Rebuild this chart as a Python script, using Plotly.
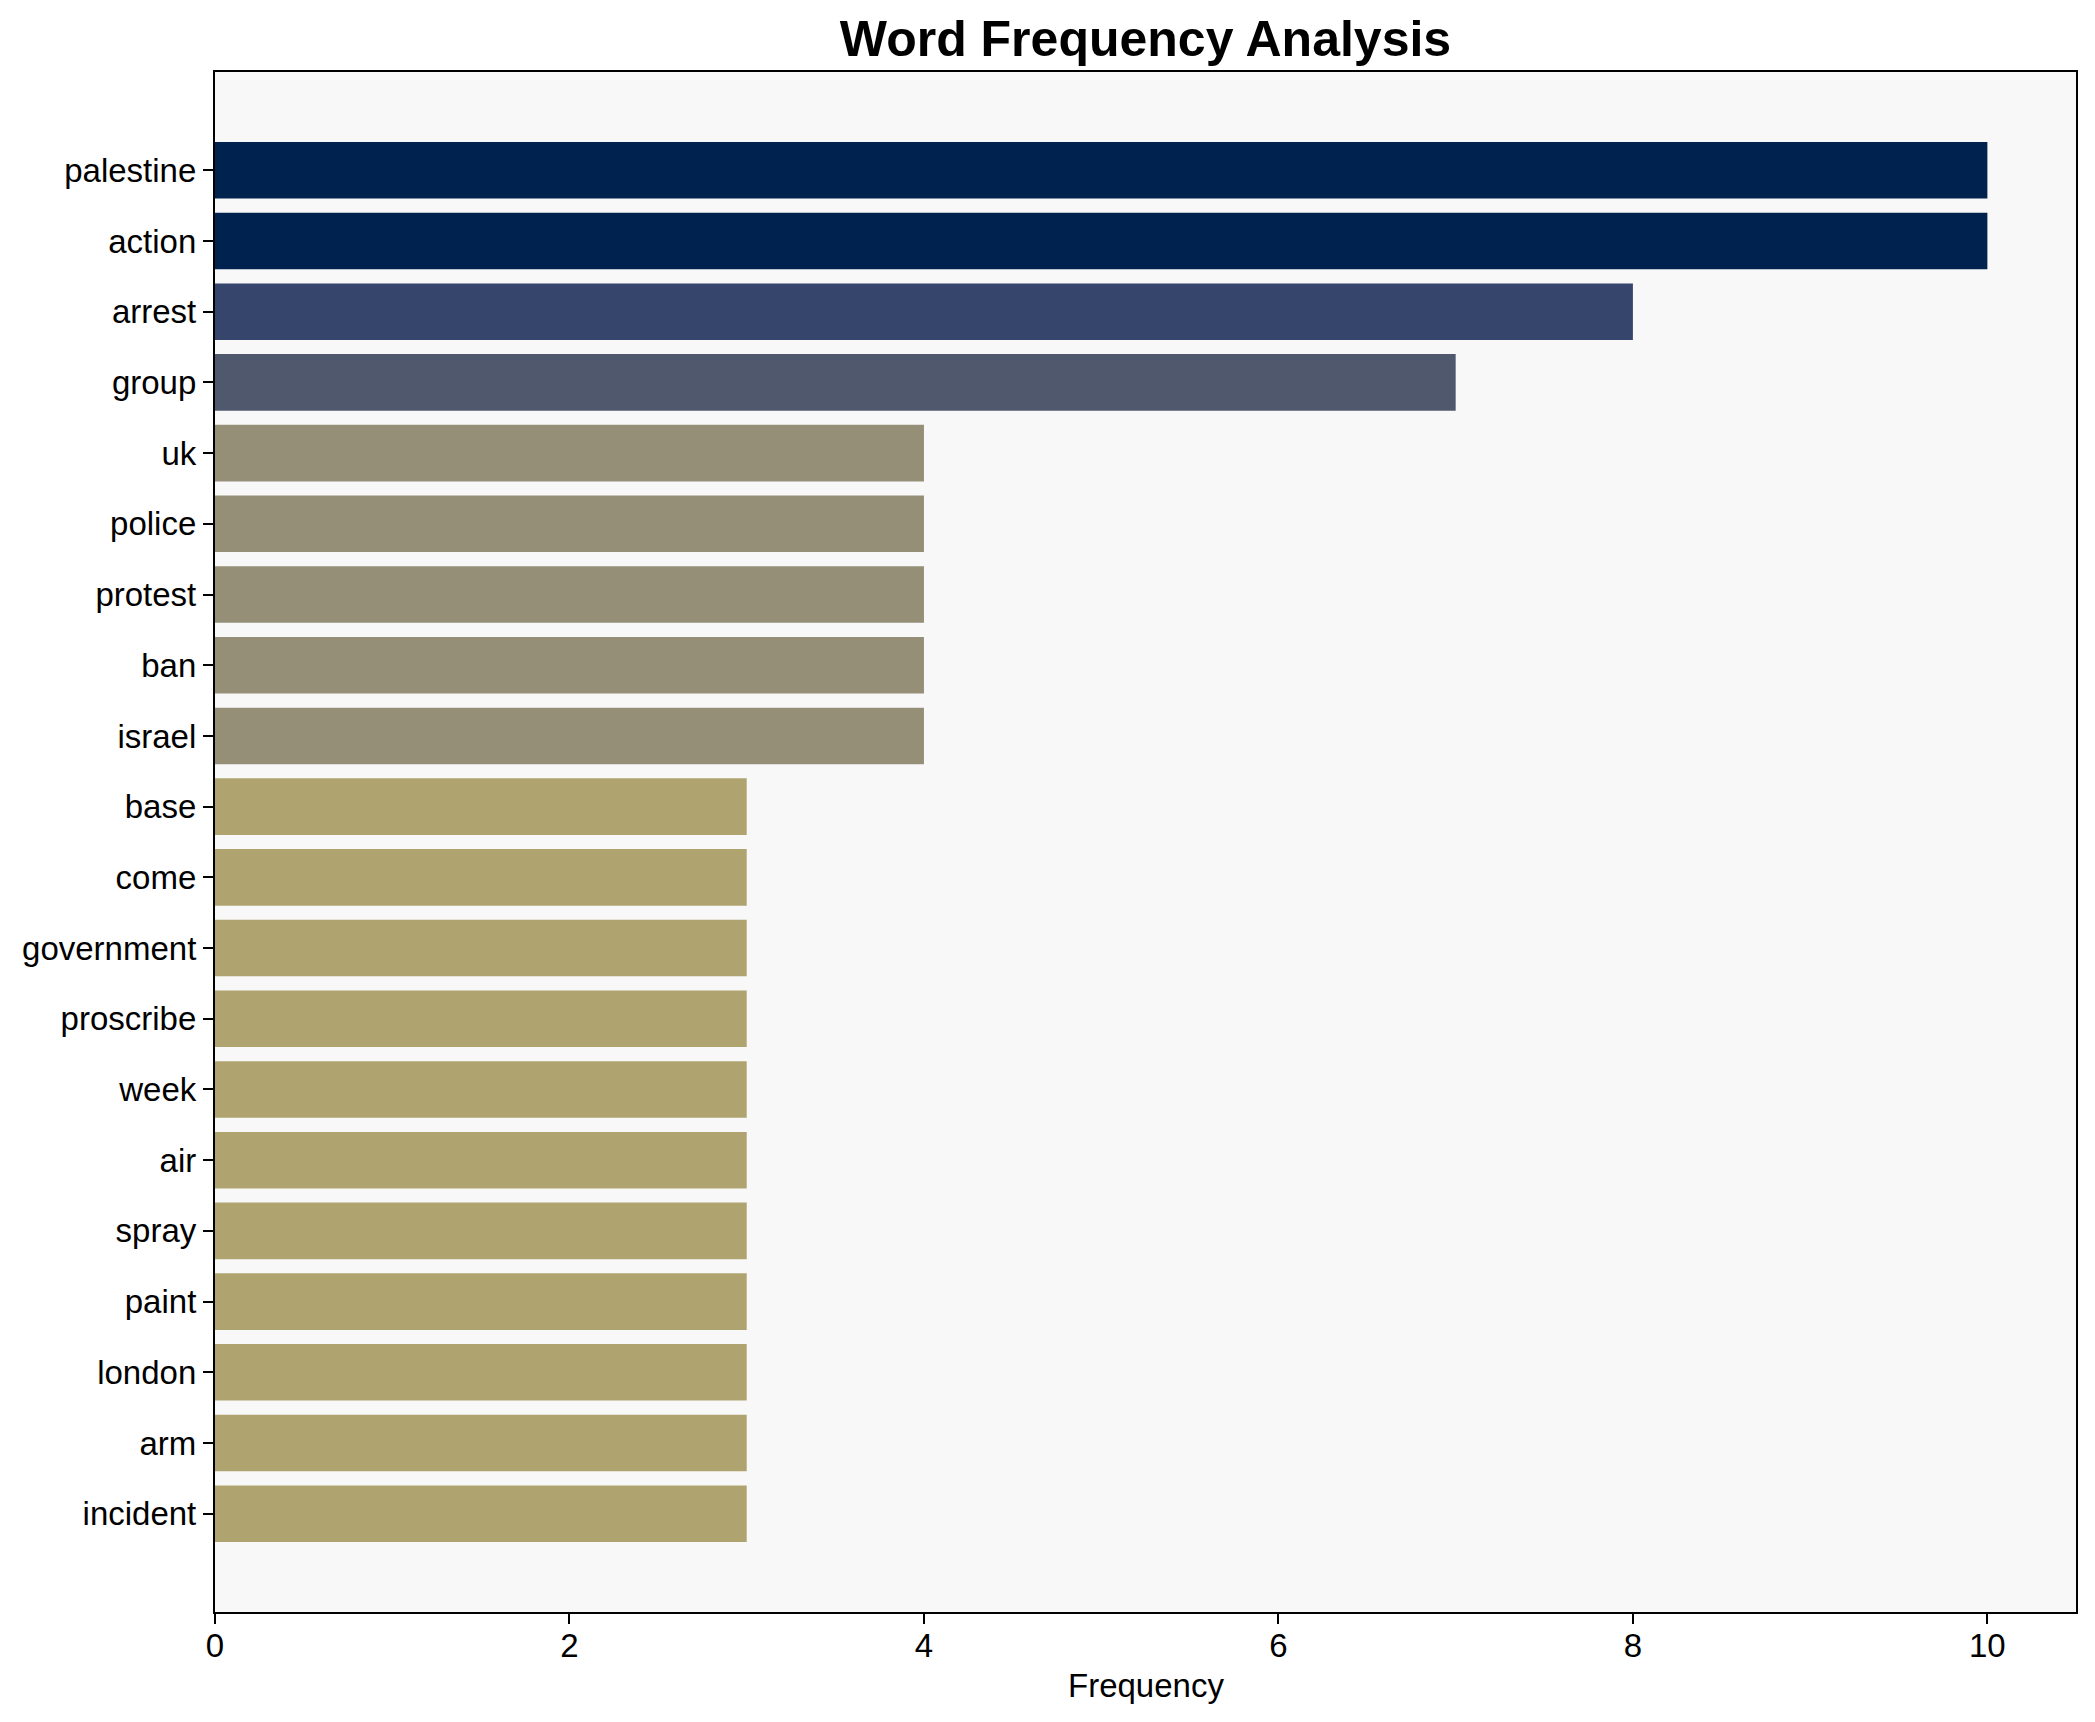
import plotly.graph_objects as go

words = ["palestine", "action", "arrest", "group", "uk", "police", "protest", "ban",
         "israel", "base", "come", "government", "proscribe", "week", "air", "spray",
         "paint", "london", "arm", "incident"]
freqs = [10, 10, 8, 7, 4, 4, 4, 4, 4, 3, 3, 3, 3, 3, 3, 3, 3, 3, 3, 3]
x_ticks = [0, 2, 4, 6, 8, 10]

palette = {10: "#00224E", 8: "#35456C", 7: "#4F586C", 4: "#958F77", 3: "#AFA470"}
bar_colors = [palette[v] for v in freqs]

# page has an 8px body margin; keep the figure inside the window
W, H = 2079, 1706
L, R, T, B = 207, 11, 64, 102
plot_h = H - T - B
n = len(words)

fig = go.Figure(go.Bar(
    x=freqs, y=words, orientation="h", width=0.8,
    marker=dict(color=bar_colors, line=dict(width=0)),
    hoverinfo="x+y",
))

font_family = "Liberation Sans, Arial, sans-serif"

fig.update_layout(
    width=W, height=H,
    margin=dict(l=L, r=R, t=T, b=B, autoexpand=False),
    paper_bgcolor="white",
    plot_bgcolor="#F8F8F8",
    showlegend=False,
    font=dict(family=font_family, color="black"),
    title=dict(text="<b>Word Frequency Analysis</b>",
               x=(L + (W - R)) / 2 / W, xanchor="center", xref="container",
               y=1 - 30 / H, yanchor="middle", yref="container",
               font=dict(size=50, family=font_family, color="black")),
)

fig.update_xaxes(
    range=[0, 10.5], tickvals=x_ticks, ticktext=[str(t) for t in x_ticks],
    showgrid=False, zeroline=False,
    showline=True, linecolor="black", linewidth=2.2, mirror=True,
    ticks="outside", ticklen=10, tickwidth=2.2, tickcolor="black",
    ticklabelstandoff=-7,
    tickfont=dict(size=33, family=font_family, color="black"),
)
fig.update_yaxes(
    categoryorder="array", categoryarray=words,
    range=[n - 1 + 1.39, -1.39],
    showgrid=False, zeroline=False,
    showline=True, linecolor="black", linewidth=2.2, mirror=True,
    ticks="outside", ticklen=10, tickwidth=2.2, tickcolor="black",
    tickfont=dict(size=33, family=font_family, color="black"),
)

fig.add_annotation(
    text="Frequency", xref="paper", yref="paper", x=0.5,
    y=-(1677 - (H - B)) / plot_h,
    xanchor="center", yanchor="middle", showarrow=False,
    font=dict(size=33, family=font_family, color="black"),
)

fig.write_html("out.html")
